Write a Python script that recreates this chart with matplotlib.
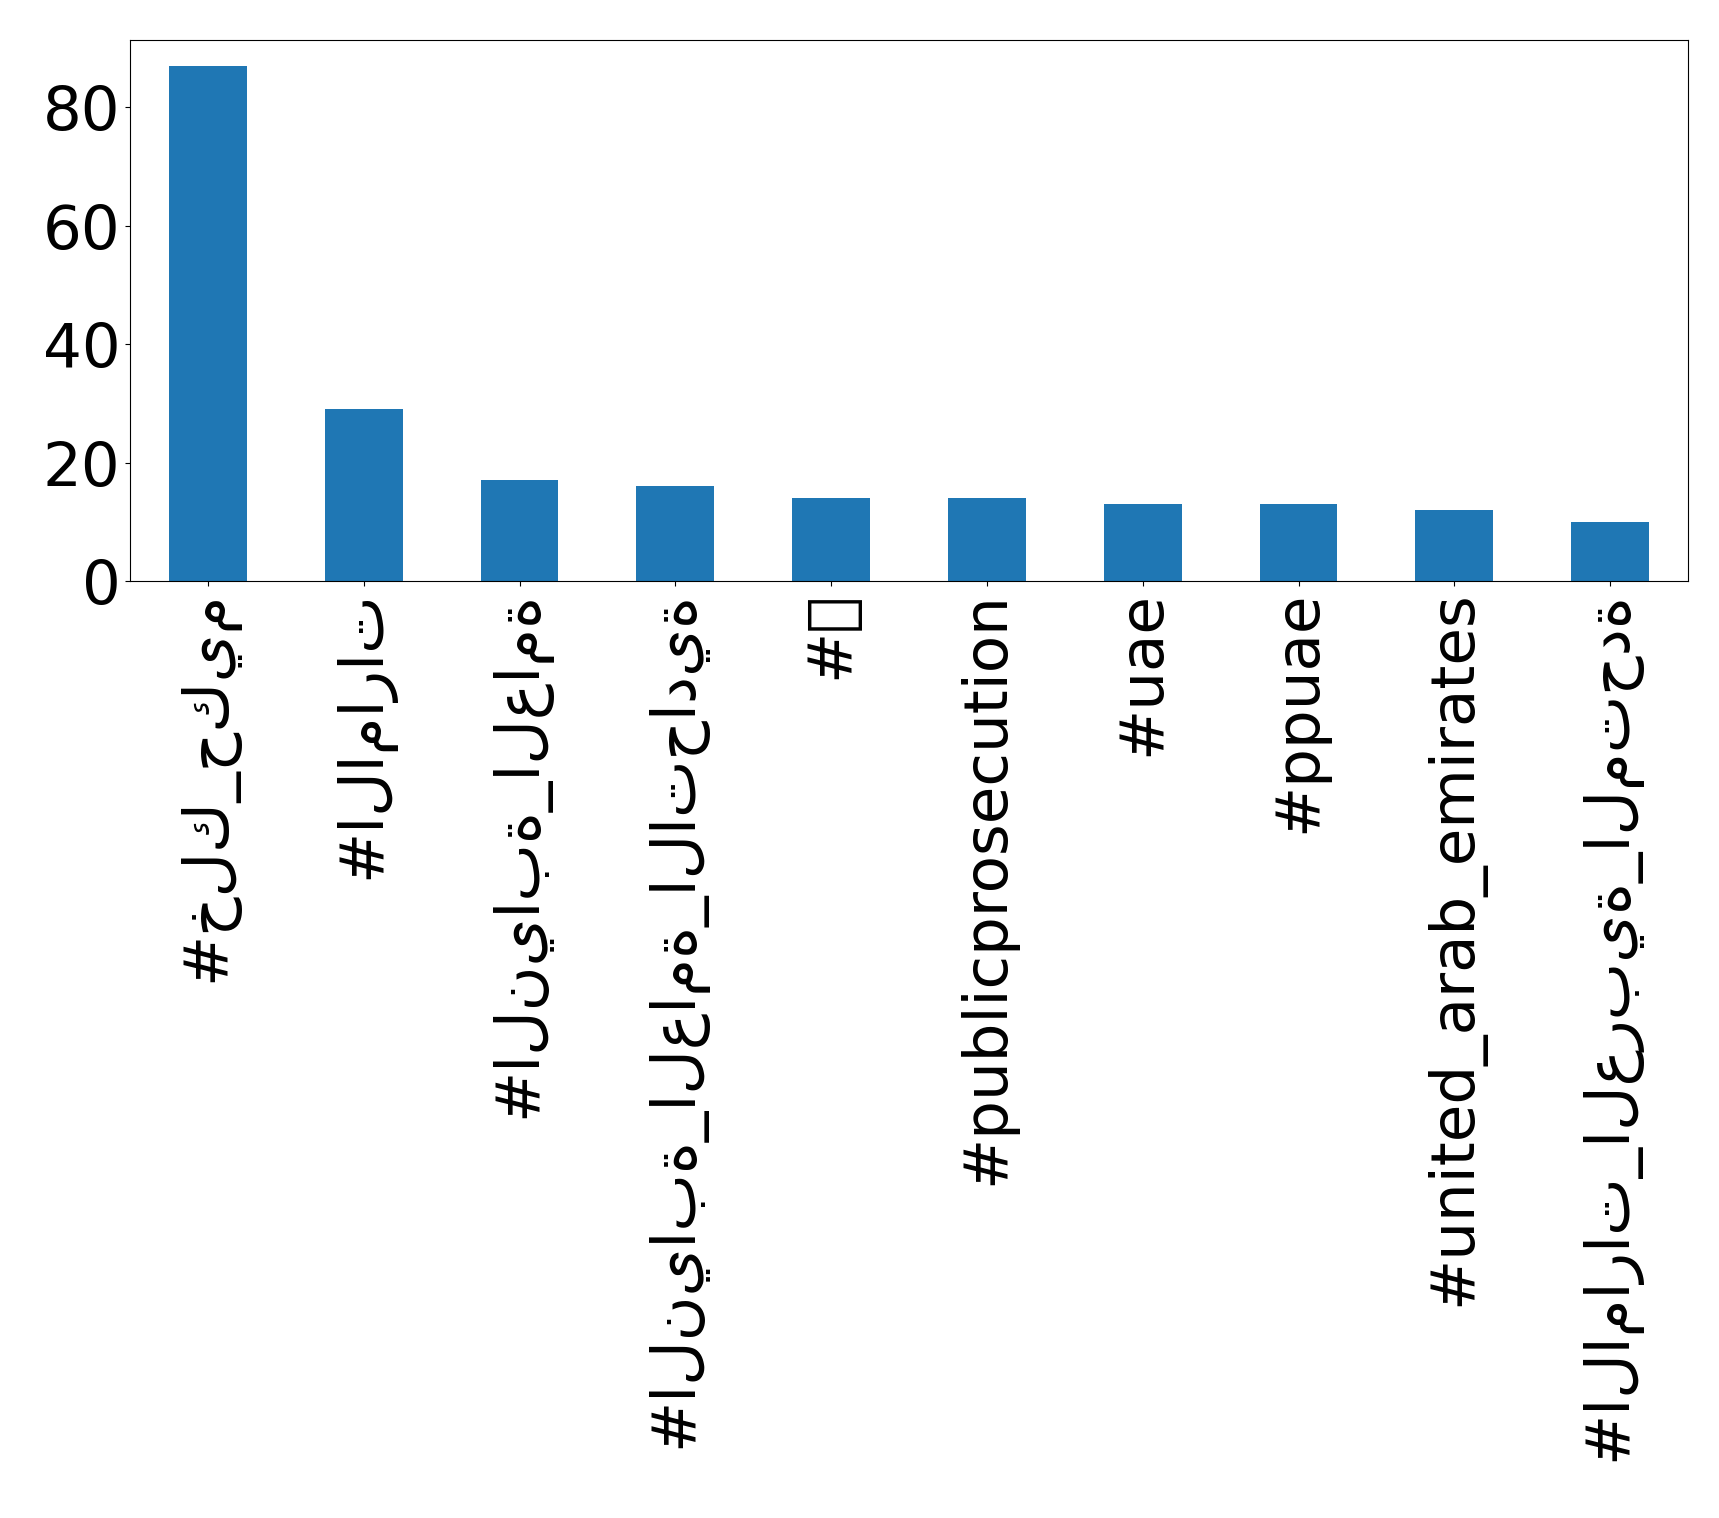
import matplotlib
matplotlib.use("Agg")
import matplotlib.pyplot as plt

labels = ["#خلك_حكيم", "#الامارات", "#النيابة_العامة", "#النيابة_العامة_الاتحادية",
          "#\U0001F4AF", "#publicprosecution", "#uae", "#ppuae",
          "#united_arab_emirates", "#الامارات_العربية_المتحدة"]
counts = [87, 29, 17, 16, 14, 14, 13, 13, 12, 10]

fig = plt.figure(figsize=(17.19, 15.18), dpi=100)
ax = fig.add_axes([130/1719, 1-581/1518, (1688-130)/1719, (581-40)/1518])
x = range(len(labels))
ax.bar(x, counts, width=0.5, color="#1f77b4")
ax.set_xlim(-0.5, len(labels)-0.5)
ax.set_ylim(0, 91.35)
ax.set_xticks(list(x))
ax.set_xticklabels(labels, rotation=90, fontsize=44)
ax.set_yticks([0, 20, 40, 60, 80])
ax.tick_params(axis='y', labelsize=44)
fig.savefig("out.png", dpi=100)
